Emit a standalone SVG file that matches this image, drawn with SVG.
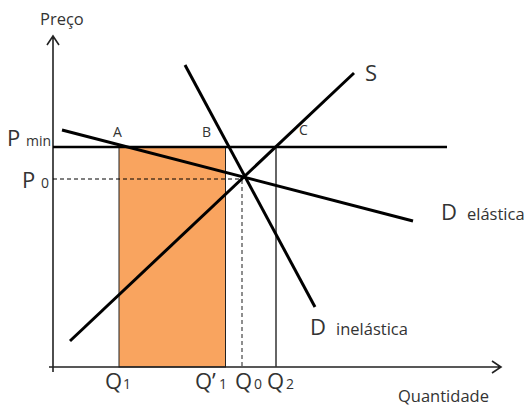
<svg xmlns="http://www.w3.org/2000/svg" width="532" height="408" viewBox="0 0 532 408">
<style>
text{font-family:"Open Sans","Noto Sans",sans-serif;fill:#333}
.big{font-size:22px}
.sub{font-size:14px}
.pt{font-size:14px}
.lab{font-size:16.5px}
.curve{stroke:#000;stroke-width:3;fill:none}
.axis{stroke:#222;stroke-width:1.6;fill:none}
</style>
<rect width="532" height="408" fill="#fff"/>
<g id="area"><rect x="119" y="147" width="106.5" height="220" fill="#F9A45F" stroke="#222" stroke-width="1"/></g>
<g id="connectors">
<path class="axis" d="M53 372V36M47 45L53 36L59 45"/>
<path class="axis" d="M49 367H501M492 361L501 367L492 373"/>
<line x1="53" y1="147" x2="447" y2="147" stroke="#000" stroke-width="2.5"/>
<line x1="53" y1="179" x2="243" y2="179" stroke="#000" stroke-width="1" stroke-dasharray="4,3"/>
<line x1="242" y1="180" x2="242" y2="367" stroke="#444" stroke-width="1.2" stroke-dasharray="4,3"/>
<line x1="276" y1="147" x2="276" y2="367" stroke="#333" stroke-width="1.5"/>
<line class="curve" x1="62" y1="130" x2="413" y2="221"/>
<line class="curve" x1="185" y1="65" x2="315" y2="307"/>
<line class="curve" x1="70" y1="341" x2="354" y2="73"/>
</g>
<g id="labels">
<text x="40" y="25" class="lab">Preço</text>
<text x="7" y="146" class="big">P</text><text x="26" y="146" class="sub">min</text>
<text x="22" y="188" class="big">P</text><text x="41" y="188" class="sub">0</text>
<text x="113" y="137" class="pt">A</text>
<text x="202" y="137" class="pt">B</text>
<text x="299" y="135" class="pt">C</text>
<text x="365" y="81" class="big">S</text>
<text x="441" y="220" class="big">D</text><text x="467" y="220" class="lab">elástica</text>
<text x="310" y="335" class="big">D</text><text x="336" y="335" class="lab">inelástica</text>
<text x="105" y="389" class="big">Q</text><text x="123" y="389" class="sub">1</text>
<text x="195" y="389" class="big">Q’</text><text x="219" y="389" class="sub">1</text>
<text x="235" y="389" class="big">Q</text><text x="254" y="389" class="sub">0</text>
<text x="267" y="389" class="big">Q</text><text x="286" y="389" class="sub">2</text>
<text x="398" y="402" class="lab">Quantidade</text>
</g>
</svg>
